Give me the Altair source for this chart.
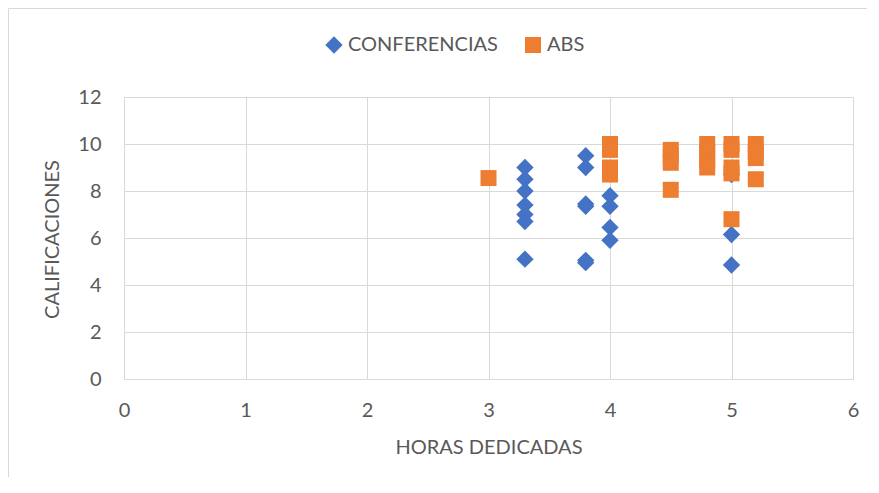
import altair as alt
import pandas as pd

conf_x = [3.3, 3.3, 3.3, 3.3, 3.3, 3.3, 3.3,
          3.8, 3.8, 3.8, 3.8, 3.8, 3.8,
          4.0, 4.0, 4.0, 4.0,
          5.0, 5.0, 5.0]
conf_y = [9.0, 8.5, 8.0, 7.4, 7.0, 6.7, 5.1,
          9.5, 9.0, 7.45, 7.35, 5.05, 4.95,
          7.8, 7.35, 6.45, 5.9,
          8.7, 6.15, 4.85]

abs_x = [3.0,
         4.0, 4.0, 4.0, 4.0,
         4.5, 4.5, 4.5, 4.5,
         4.8, 4.8, 4.8, 4.8,
         5.0, 5.0, 5.0, 5.0, 5.0,
         5.2, 5.2, 5.2, 5.2]
abs_y = [8.55,
         10.0, 9.75, 9.0, 8.7,
         9.75, 9.5, 9.2, 8.05,
         10.0, 9.7, 9.3, 9.0,
         10.0, 9.75, 9.0, 8.75, 6.8,
         10.0, 9.7, 9.4, 8.5]

series = ["CONFERENCIAS", "ABS"]
colors = ["#4472C4", "#ED7D31"]
shapes = ["diamond", "square"]
sizes = [300, 256]

df = pd.DataFrame({
    "horas": conf_x + abs_x,
    "calif": conf_y + abs_y,
    "serie": [series[0]] * len(conf_x) + [series[1]] * len(abs_x),
})

FONT = "Lato"
GREY = "#595959"
GRID = "#D9D9D9"
FS = 20

points = alt.Chart(df).mark_point(filled=True, opacity=1, strokeWidth=0).encode(
    x=alt.X("horas:Q", title="HORAS DEDICADAS",
            scale=alt.Scale(domain=[0, 6], nice=False),
            axis=alt.Axis(values=[0, 1, 2, 3, 4, 5, 6], ticks=False, labelPadding=21,
                          labelFlush=False,
                          titleY=68, titleBaseline="middle", domainColor=GRID,
                          gridColor=GRID)),
    y=alt.Y("calif:Q", title="CALIFICACIONES",
            scale=alt.Scale(domain=[0, 12], nice=False),
            axis=alt.Axis(values=[0, 2, 4, 6, 8, 10, 12], ticks=False, labelPadding=23,
                          labelFlush=False,
                          titleX=-72, titleY=142, titleBaseline="middle", titleAngle=270,
                          domainColor=GRID, gridColor=GRID)),
    color=alt.Color("serie:N", scale=alt.Scale(domain=series, range=colors),
                    legend=alt.Legend(title=None, orient="none", direction="horizontal",
                                      legendX=200, legendY=-62, symbolSize=90,
                                      labelFontSize=FS, labelColor=GREY, labelFont=FONT,
                                      columnPadding=25, labelOffset=4)),
    shape=alt.Shape("serie:N", scale=alt.Scale(domain=series, range=shapes),
                    legend=alt.Legend(title=None, orient="none", direction="horizontal",
                                      legendX=200, legendY=-62)),
    size=alt.Size("serie:N", scale=alt.Scale(domain=series, range=sizes), legend=None),
    order=alt.Order("serie:N", sort="descending"),
)

frame = alt.Chart(pd.DataFrame({"a": [0]})).mark_rect(
    filled=False, stroke=GRID, strokeWidth=1
).encode(
    x=alt.value(-115.5), x2=alt.value(900), y=alt.value(-88.5), y2=alt.value(500)
)

chart = alt.layer(frame, points).properties(
    width=729, height=282,
    autosize=alt.AutoSizeParams(type="none"),
    padding={"left": 116, "top": 89, "right": 14, "bottom": 98},
).configure_view(stroke=None).configure_axis(
    labelFont=FONT, labelFontSize=FS, labelColor=GREY,
    titleFont=FONT, titleFontSize=FS, titleColor=GREY, titleFontWeight="normal",
    gridColor=GRID, domainColor=GRID,
).configure_legend(symbolStrokeWidth=0)

chart.save("out.html", embed_options={"renderer": "svg", "actions": False})
